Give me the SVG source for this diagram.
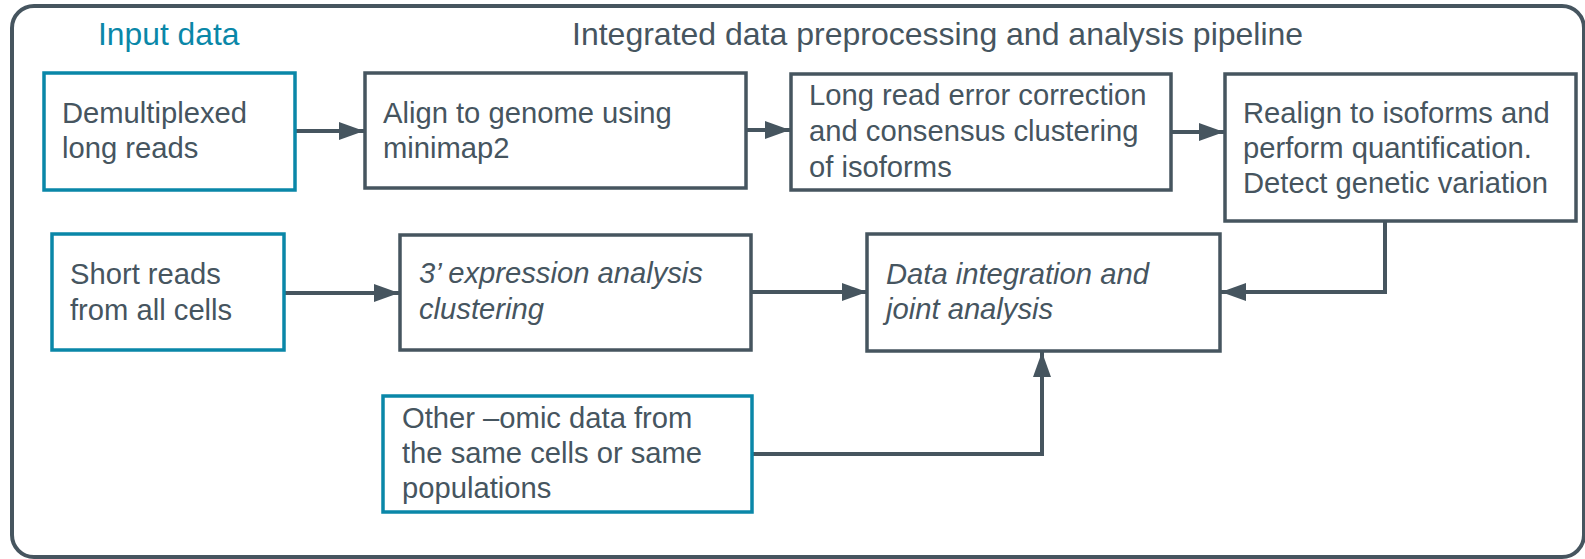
<svg xmlns="http://www.w3.org/2000/svg" width="1585" height="559" viewBox="0 0 1585 559">
<style>
text{font-family:"Liberation Sans",Arial,sans-serif;fill:#46555F;font-size:29.2px}
.hdr{font-size:31.8px}
.ttl{font-size:32px}
.teal{fill:#0A87A8}
.it{font-style:italic}
.box{fill:#fff;stroke:#46555F;stroke-width:3.5}
.inbox{fill:#fff;stroke:#0A87A8;stroke-width:3.5}
.conn{fill:none;stroke:#46555F;stroke-width:4}
</style>
<defs>
<marker id="arr" markerUnits="userSpaceOnUse" markerWidth="26" markerHeight="20" refX="25" refY="9" orient="auto">
<path d="M0,0 L25,9 L0,18 z" fill="#46555F"/>
</marker>
</defs>
<rect id="frame" x="12" y="6" width="1572" height="551" rx="22" fill="#fff" stroke="#46555F" stroke-width="4"/>
<text class="hdr teal" x="98" y="45">Input data</text>
<text class="ttl" x="572" y="45">Integrated data preprocessing and analysis pipeline</text>
<g id="connectors">
<path class="conn" marker-end="url(#arr)" d="M296,131 L364,131"/>
<path class="conn" marker-end="url(#arr)" d="M747,130 L790,130"/>
<path class="conn" marker-end="url(#arr)" d="M1172,132 L1224,132"/>
<path class="conn" marker-end="url(#arr)" d="M1385,222 L1385,292 L1221,292"/>
<path class="conn" marker-end="url(#arr)" d="M285,293 L399,293"/>
<path class="conn" marker-end="url(#arr)" d="M752,292 L867,292"/>
<path class="conn" marker-end="url(#arr)" d="M753,454 L1042,454 L1042,352"/>
</g>
<g id="demux">
<rect class="inbox" x="44" y="73" width="251" height="117"/>
<text x="62" y="123">Demultiplexed</text>
<text x="62" y="158">long reads</text>
</g>
<g id="align">
<rect class="box" x="365" y="73" width="381" height="115"/>
<text x="383" y="123">Align to genome using</text>
<text x="383" y="158">minimap2</text>
</g>
<g id="correct">
<rect class="box" x="791" y="74" width="380" height="116"/>
<text x="809" y="105">Long read error correction</text>
<text x="809" y="141">and consensus clustering</text>
<text x="809" y="177">of isoforms</text>
</g>
<g id="realign">
<rect class="box" x="1225" y="74" width="351" height="147"/>
<text x="1243" y="123">Realign to isoforms and</text>
<text x="1243" y="158">perform quantification.</text>
<text x="1243" y="193">Detect genetic variation</text>
</g>
<g id="short">
<rect class="inbox" x="52" y="234" width="232" height="116"/>
<text x="70" y="284">Short reads</text>
<text x="70" y="320">from all cells</text>
</g>
<g id="expr">
<rect class="box" x="400" y="235" width="351" height="115"/>
<text class="it" x="419" y="283">3’ expression analysis</text>
<text class="it" x="419" y="319">clustering</text>
</g>
<g id="integ">
<rect class="box" x="867" y="234" width="353" height="117"/>
<text class="it" x="886" y="284">Data integration and</text>
<text class="it" x="886" y="319">joint analysis</text>
</g>
<g id="omic">
<rect class="inbox" x="383" y="396" width="369" height="116"/>
<text x="402" y="428">Other –omic data from</text>
<text x="402" y="463">the same cells or same</text>
<text x="402" y="498">populations</text>
</g>
</svg>
